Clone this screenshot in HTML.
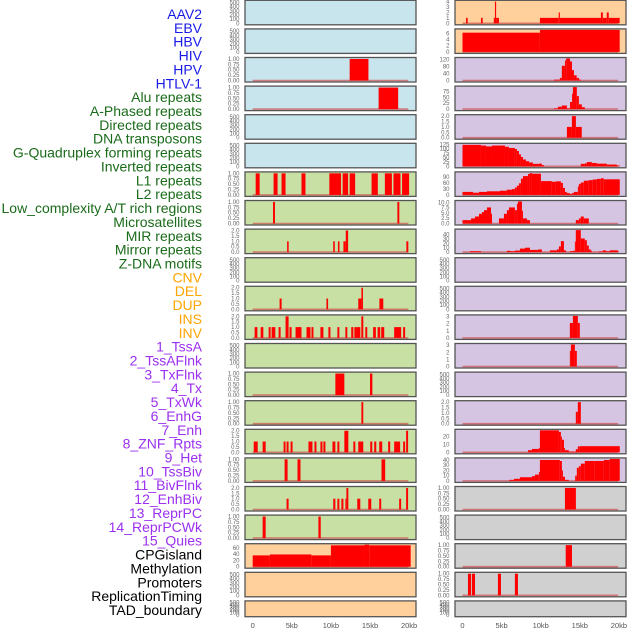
<!DOCTYPE html>
<html><head><meta charset="utf-8">
<style>
html,body{margin:0;padding:0;background:#fff;}
svg{display:block;font-family:"Liberation Sans",sans-serif;}
</style></head>
<body>
<svg id="chart" width="630" height="630" viewBox="0 0 630 630" xmlns="http://www.w3.org/2000/svg">
<g id="labels" font-size="14" text-anchor="end"></g>
<g id="panels"></g>
<g id="xaxes" font-size="7.5" fill="#555" text-anchor="middle"></g>
</svg>
<script>
// ---- labels ----
const labelNames = ["AAV2","EBV","HBV","HIV","HPV","HTLV-1","Alu repeats","A-Phased repeats","Directed repeats","DNA transposons","G-Quadruplex forming repeats","Inverted repeats","L1 repeats","L2 repeats","Low_complexity A/T rich regions","Microsatellites","MIR repeats","Mirror repeats","Z-DNA motifs","CNV","DEL","DUP","INS","INV","1_TssA","2_TssAFlnk","3_TxFlnk","4_Tx","5_TxWk","6_EnhG","7_Enh","8_ZNF_Rpts","9_Het","10_TssBiv","11_BivFlnk","12_EnhBiv","13_ReprPC","14_ReprPCWk","15_Quies","CPGisland","Methylation","Promoters","ReplicationTiming","TAD_boundary"];
const labelGroups = ["v","v","v","v","v","v","r","r","r","r","r","r","r","r","r","r","r","r","r","s","s","s","s","s","c","c","c","c","c","c","c","c","c","c","c","c","c","c","c","o","o","o","o","o"];
const groupColors = {v:"#1a1ae6",r:"#1a6b1a",s:"#ffa500",c:"#9b30f0",o:"#000"};

// ---- x-axis ----
const xTickValues = [0,5,10,15,20];
const xTickLabels = ["0","5kb","10kb","15kb","20kb"];

// ---- track data: [startKb, endKb, value] ----
const emptyTrack = [];
const hivSegs = [[12.4,14.8,1]];
const hpvSegs = [[16.1,18.6,1]];
const l1Segs = [[0.38,0.89,1],[2.67,3.18,1],[3.69,4.2,1],[6.24,6.75,1],[9.8,11.3,1],[11.5,12.2,1],[12.4,13.1,1],[15.2,16.0,1],[16.9,17.8,1],[18.0,18.9,1],[19.1,20.0,1]];
const l2Segs = [[2.6,2.85,1],[18.5,18.75,1]];
const lowCompSegs = [[4.4,4.6,1],[10.3,10.5,1],[10.9,11.1,1],[11.6,11.9,1],[11.9,12.2,2],[19.65,19.9,1]];
const mirSegs = [[3.44,3.7,1],[9.43,9.64,1],[13.5,13.9,1],[13.9,14.1,2],[16.2,16.7,1]];
const mirrorSegs = [[0.25,0.6,1],[1.02,1.36,1],[2.04,2.29,1],[2.42,2.89,1],[3.31,3.57,1],[4.2,4.59,2],[4.71,4.97,1],[5.48,6.24,1],[6.88,7.39,1],[7.52,7.77,1],[8.66,9.04,1],[9.68,9.94,1],[10.83,11.08,1],[11.85,12.1,1],[12.6,12.87,1],[13.0,13.76,1],[13.89,14.14,2],[14.4,14.65,1],[15.4,15.75,1],[15.97,16.3,1],[16.43,16.82,1],[18.09,18.98,1],[19.24,19.49,1]];
const cnvLSegs = [[10.57,11.72,1],[15.0,15.3,1]];
const delSegs = [[13.9,14.14,1]];
const dupSegs = [[0.13,0.64,1],[1.27,1.66,1],[3.95,4.2,1],[4.33,4.59,1],[4.84,5.1,1],[7.13,7.64,1],[7.9,8.15,1],[8.66,8.92,1],[9.04,9.3,1],[10.2,10.57,1],[10.83,11.08,1],[11.72,12.23,2],[12.87,13.12,1],[13.5,14.14,1],[15.03,15.29,1],[15.54,15.8,1],[16.18,16.56,1],[17.32,17.58,1],[18.09,18.85,1],[19.24,19.49,1],[19.62,19.87,2]];
const r16LSegs = [[4.08,4.46,1],[5.73,6.11,1],[16.47,16.94,1]];
const r17LSegs = [[4.33,4.59,1],[10.3,10.57,1],[10.83,11.08,1],[11.34,11.6,1],[11.85,11.98,1],[11.98,12.23,2],[13.37,13.76,1],[14.78,15.16,1],[16.18,16.43,1],[18.73,18.98,1],[19.62,19.87,2]];
const r18LSegs = [[1.27,1.66,1],[8.4,8.7,1]];
const cnvAreaSegs = [[0,2.2,36],[2.2,7.5,39],[7.5,10,36],[10,14.3,68],[14.3,14.9,70],[14.9,20.2,68]];

const r0RSegs = [[0.45,0.66,1],[2.36,2.58,1],[4.0,4.15,1],[4.15,4.3,4],[4.3,4.66,1],[9.9,12.3,1],[12.3,12.45,2],[12.45,17.7,1],[17.7,17.95,2],[17.95,18.45,1],[18.45,18.7,2],[18.7,20.1,1]];
const r1RSegs = [[0,9.9,6.2],[9.9,20.1,7.1]];
const r2RSegs = [[11.7,12.45,5],[12.45,12.7,15],[12.7,13.1,85],[13.1,13.25,115],[13.25,13.75,127],[13.75,14.0,110],[14.0,14.25,60],[14.25,14.6,30],[14.6,14.9,15],[14.9,15.15,5]];
const r3RSegs = [[11.7,12.2,3],[12.2,12.7,10],[12.7,13.35,15],[13.35,13.75,3],[13.75,14.0,30],[14.0,14.12,65],[14.12,14.62,93],[14.62,14.88,55],[14.88,15.26,20],[15.26,15.64,8]];
const r4RSegs = [[13.35,13.99,1],[13.99,14.5,2],[14.5,15.25,1]];
const r5RSegs = [[0,2.36,122],[2.36,3.0,118],[3.0,3.77,113],[3.77,5.43,118],[5.43,5.94,111],[5.94,6.7,104],[6.7,6.96,98],[6.96,7.22,87],[7.22,7.47,68],[7.47,7.73,53],[7.73,8.11,39],[8.11,8.5,29],[8.5,9.0,22],[9.0,9.77,14],[9.77,10.15,15],[10.15,10.41,7],[15.13,15.64,14],[15.64,15.9,17],[15.9,16.54,24],[16.54,17.18,19],[17.18,18.45,15],[18.45,19.73,10],[19.73,20.11,5]];
const r6RSegs = [[0,1.34,15],[1.34,2.11,11],[2.11,3.13,15],[3.13,4.79,18],[4.79,5.68,21],[5.68,6.32,26],[6.32,6.7,29],[6.7,6.96,37],[6.96,7.22,46],[7.22,7.47,58],[7.47,7.73,81],[7.73,8.37,94],[8.37,8.62,105],[8.62,8.88,109],[8.88,10.03,106],[10.03,11.43,69],[11.43,11.94,66],[11.94,12.58,68],[12.58,12.84,60],[12.84,13.1,35],[13.1,13.35,15],[13.35,13.73,9],[13.73,13.99,5],[13.99,14.24,9],[14.24,14.75,15],[14.75,14.88,42],[14.88,15.13,55],[15.13,15.51,62],[15.51,16.15,71],[16.15,16.66,74],[16.66,17.18,77],[17.18,17.69,80],[17.69,18.07,83],[18.07,20.11,78]];
const r7RSegs = [[0,1.09,1.6],[1.09,1.6,2.4],[1.6,2.11,3.3],[2.11,2.49,4.6],[2.49,2.75,5.4],[2.75,3.13,6.3],[3.13,3.64,7.6],[3.64,3.77,4.6],[4.66,5.3,2.4],[5.3,5.68,4.6],[5.68,5.94,6.3],[5.94,6.7,7.6],[6.7,6.96,6.3],[6.96,7.09,9.3],[7.09,7.6,10.4],[7.6,7.73,6],[7.73,8.24,2.4],[8.24,8.62,1.6],[14.49,14.88,1.6],[14.88,15.13,2.4],[15.13,15.51,3.3],[15.51,16.15,2.4]];
const r8RSegs = [[0.96,2.36,2],[5.68,6.07,3],[6.07,6.7,2],[6.7,7.35,3.5],[7.35,7.99,8],[7.99,8.62,10],[8.62,9.64,5],[9.64,10.15,6],[11.18,12.07,4],[12.07,12.33,6],[12.33,12.58,13],[12.58,12.97,25],[12.97,13.22,4],[13.73,14.12,2],[14.12,14.37,3],[14.37,14.49,24],[14.49,15.13,50],[15.13,15.64,31],[15.64,15.9,27],[15.9,16.15,15],[16.15,16.41,6],[16.41,16.54,3],[17.43,17.94,1.5],[17.94,18.33,4],[18.33,18.84,2],[18.84,19.86,4],[19.86,19.99,2]];
const r11RSegs = [[13.73,14.12,2.1],[14.12,14.75,3.1],[14.75,15.0,2.1]];
const r12RSegs = [[13.73,13.86,2.2],[13.86,14.37,3.1],[14.37,14.62,2.2]];
const r14RSegs = [[14.49,14.75,1.1],[14.75,15.13,2]];
const r15RSegs = [[8.37,8.88,2.7],[8.88,9.77,4.3],[9.77,9.9,5.5],[9.9,12.33,28],[12.33,12.58,26],[12.58,12.71,20],[12.71,12.97,16],[12.97,13.1,5.5],[13.1,13.6,2.7],[13.6,14.49,1],[14.49,14.75,4],[14.75,15.0,7.5],[15.0,20.11,7.8]];
const r16RSegs = [[5.98,6.58,2],[6.58,7.34,4],[7.34,8.88,7],[8.88,9.26,9],[9.26,9.77,12],[9.77,9.9,17],[9.9,12.45,40],[12.45,12.71,38],[12.71,12.84,20],[12.84,13.1,8],[13.1,13.6,2],[14.41,14.62,10],[14.62,14.88,25],[14.88,15.13,28],[15.13,15.64,33],[15.64,16.92,38],[16.92,18.07,38],[18.07,18.84,40],[18.84,20.11,42]];
const r17RSegs = [[13.1,14.5,1]];
const r19RSegs = [[13.2,14.0,1]];
const r20RSegs = [[0.7,1.09,1],[1.2,1.6,1],[4.53,4.92,1],[6.7,7.09,1]];

// ---- tick sets ----
const ticksEmpty = [0,100,200,300,400,500];
const ticksOne = [0,0.25,0.5,0.75,1];
const ticksTwo = [0,0.5,1,1.5,2];

// track configs: [segs, ymax, ticks, decimals, bg]
const BLUE="#c8e4ec",GREEN="#c8e0a4",ORANGE="#ffd09c",PURPLE="#d6c5e2",GRAY="#d0d0d0";
const leftTracks = [
 [emptyTrack,530,ticksEmpty,0,BLUE],[emptyTrack,530,ticksEmpty,0,BLUE],[hivSegs,1.02,ticksOne,2,BLUE],[hpvSegs,1.02,ticksOne,2,BLUE],[emptyTrack,530,ticksEmpty,0,BLUE],[emptyTrack,530,ticksEmpty,0,BLUE],
 [l1Segs,1.02,ticksOne,2,GREEN],[l2Segs,1.02,ticksOne,2,GREEN],[lowCompSegs,2.04,ticksTwo,1,GREEN],[emptyTrack,530,ticksEmpty,0,GREEN],[mirSegs,2.04,ticksTwo,1,GREEN],[mirrorSegs,2.04,ticksTwo,1,GREEN],[emptyTrack,530,ticksEmpty,0,GREEN],
 [cnvLSegs,1.02,ticksOne,2,GREEN],[delSegs,1.02,ticksOne,2,GREEN],[dupSegs,2.04,ticksTwo,1,GREEN],[r16LSegs,1.02,ticksOne,2,GREEN],[r17LSegs,2.04,ticksTwo,1,GREEN],[r18LSegs,1.02,ticksOne,2,GREEN],
 [cnvAreaSegs,70,[0,20,40,60],0,ORANGE],[emptyTrack,530,ticksEmpty,0,ORANGE],[emptyTrack,530,ticksEmpty,0,ORANGE]
];
const rightTracks = [
 [r0RSegs,4.05,[0,1,2,3,4],0,ORANGE],[r1RSegs,7.1,[0,2,4,6],0,ORANGE],
 [r2RSegs,127,[0,40,80,120],0,PURPLE],[r3RSegs,93,[0,25,50,75],0,PURPLE],[r4RSegs,2.04,ticksTwo,1,PURPLE],[r5RSegs,125,[0,25,50,75,100,125],0,PURPLE],[r6RSegs,110,[0,30,60,90],0,PURPLE],[r7RSegs,10.4,[0,2.5,5,7.5,10],1,PURPLE],[r8RSegs,50,[0,10,20,30,40],0,PURPLE],[emptyTrack,530,ticksEmpty,0,PURPLE],[emptyTrack,530,ticksEmpty,0,PURPLE],[r11RSegs,3.1,[0,1,2,3],0,PURPLE],[r12RSegs,3.1,[0,1,2,3],0,PURPLE],[emptyTrack,530,ticksEmpty,0,PURPLE],[r14RSegs,2.04,ticksTwo,1,PURPLE],[r15RSegs,28,[0,10,20],0,PURPLE],[r16RSegs,42,[0,10,20,30,40],0,PURPLE],
 [r17RSegs,1.02,ticksOne,2,GRAY],[emptyTrack,530,ticksEmpty,0,GRAY],[r19RSegs,1.02,ticksOne,2,GRAY],[r20RSegs,1.02,ticksOne,2,GRAY],[emptyTrack,530,ticksEmpty,0,GRAY]
];

const NS="http://www.w3.org/2000/svg";
function mk(tag, attrs, parent){const e=document.createElementNS(NS,tag);for(const k in attrs)e.setAttribute(k,attrs[k]);parent.appendChild(e);return e;}

// labels
const lg=document.getElementById('labels');
labelNames.forEach((n,i)=>{
  const t=mk('text',{x:202,y:19+i*13.86,fill:groupColors[labelGroups[i]]},lg);
  
  
  t.textContent=n;
});

const pg=document.getElementById('panels');
const columns=[{tracks:rightTracks,px:455,x0:462.5,tickX:449.5,name:'right'},{tracks:leftTracks,px:245,x0:252.7,tickX:239.5,name:'left'}];
const KB=7.82, PW=171;
columns.forEach(col=>{
  const xs=k=>col.x0+k*KB;
  col.tracks.forEach((tr,i)=>{
    const [segs,ymax,ticks,dec,bg]=tr;
    const top=0.3+i*28.6, h=(i===21)?15.8:24.5;
    const g=mk('g',{},pg);
    
    
    const bgR=mk('rect',{x:col.px,y:top,width:PW,height:h,fill:bg},g);
    
    
    const yb=top+h-1.5, yt=top+1;
    const ys=v=>yb-(v/ymax)*(yb-yt);
    if(segs.length){
      const bl=mk('line',{x1:xs(0),x2:xs(19.9),y1:yb,y2:yb,stroke:"#d05050","stroke-width":1.6,"stroke-opacity":0.7},g);
      
      
    }
    segs.forEach(s=>{
      const r=mk('rect',{x:xs(s[0]),y:ys(s[2]),width:Math.max(0.8,xs(s[1])-xs(s[0])),height:yb-ys(s[2]),fill:"#ff0000"},g);
      
      
    });
    const br=mk('rect',{x:col.px,y:top,width:PW,height:h,fill:"none",stroke:"#555","stroke-width":1.3},g);
    
    
    ticks.forEach(tv=>{
      const t=mk('text',{x:col.tickX,y:ys(tv)+2,"font-size":6,fill:"#666","text-anchor":"end"},g);
      
      
      t.textContent=tv.toFixed(dec);
    });
  });
  const xa=document.getElementById('xaxes');
  xTickValues.forEach((v,j)=>{
    const t=mk('text',{x:xs(v),y:628},xa);
    
    
    t.textContent=xTickLabels[j];
  });
});
</script>
</body></html>
